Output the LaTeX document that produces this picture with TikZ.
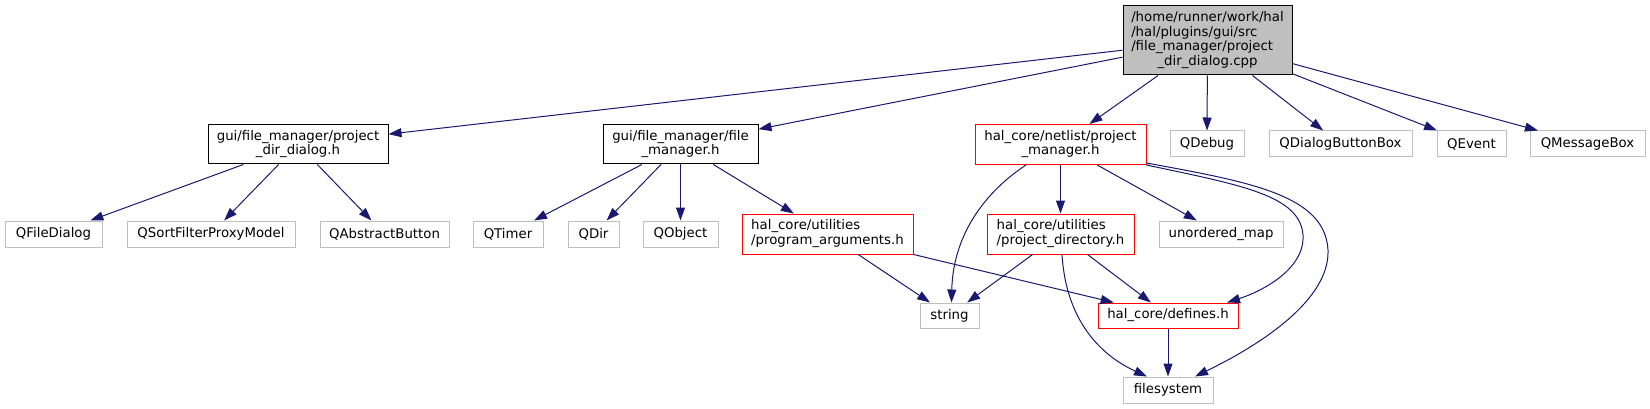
\documentclass[tikz,border=0pt]{standalone}
\usepackage{fontspec}
\setmainfont{DejaVu Sans}
\usetikzlibrary{arrows.meta}
\definecolor{edgec}{HTML}{191970}
\definecolor{greyc}{HTML}{BFBFBF}
\newcommand\twol[2]{\begin{tabular}{@{}l@{}}#1\\\multicolumn{1}{@{}c@{}}{#2}\end{tabular}}
\tikzset{
  box/.style={draw=black, line width=1pt, inner sep=0pt, font=\fontsize{13.3}{14.8}\selectfont, text=black},
  ext/.style={box, draw=greyc},
  hal/.style={box, draw=red},
  mainbox/.style={box, fill=greyc},
  dep/.style={draw=edgec, line width=1pt, -{Triangle[length=13pt,width=9pt]}},
}
\begin{document}
\begin{tikzpicture}[x=1pt,y=-1pt]
\useasboundingbox (0,0) rectangle (1650,409);
% nodes
\node[mainbox, minimum width=169pt, minimum height=69pt] (top) at (1207.5,40.5)
  {\begin{tabular}{@{}l@{}}/home/runner/work/hal\\/hal/plugins/gui/src\\/file\_manager/project\\\multicolumn{1}{@{}c@{}}{\_dir\_dialog.cpp}\end{tabular}};
\node[box, minimum width=180pt, minimum height=39pt] (pdd) at (298,144.5) {\twol{gui/file\_manager/project}{\_dir\_dialog.h}};
\node[box, minimum width=155pt, minimum height=39pt] (fm) at (680.5,144.5) {\twol{gui/file\_manager/file}{\_manager.h}};
\node[hal, minimum width=171pt, minimum height=40pt] (pm) at (1060.5,144.5) {\twol{hal\_core/netlist/project}{\_manager.h}};
\node[ext, minimum width=74pt, minimum height=26pt] (qdebug) at (1207,144) {QDebug};
\node[ext, minimum width=143pt, minimum height=26pt] (qdbb) at (1340.5,144) {QDialogButtonBox};
\node[ext, minimum width=69pt, minimum height=26pt] (qevent) at (1471.5,144) {QEvent};
\node[ext, minimum width=115pt, minimum height=26pt] (qmb) at (1587.5,144) {QMessageBox};
\node[ext, minimum width=97pt, minimum height=26pt] (qfd) at (53.5,234) {QFileDialog};
\node[ext, minimum width=168pt, minimum height=26pt] (qsfpm) at (211,234) {QSortFilterProxyModel};
\node[ext, minimum width=129pt, minimum height=26pt] (qab) at (384.5,234) {QAbstractButton};
\node[ext, minimum width=70pt, minimum height=26pt] (qtimer) at (508,234) {QTimer};
\node[ext, minimum width=51pt, minimum height=26pt] (qdir) at (593.5,234) {QDir};
\node[ext, minimum width=75pt, minimum height=26pt] (qobject) at (680.5,234) {QObject};
\node[hal, minimum width=171pt, minimum height=40pt] (pa) at (827.5,234) {\twol{hal\_core/utilities}{/program\_arguments.h}};
\node[hal, minimum width=147pt, minimum height=40pt] (pd) at (1060.5,234) {\twol{hal\_core/utilities}{/project\_directory.h}};
\node[ext, minimum width=124pt, minimum height=26pt] (um) at (1221,234) {unordered\_map};
\node[ext, minimum width=59pt, minimum height=25pt] (str) at (949.5,315.5) {string};
\node[hal, minimum width=140pt, minimum height=25pt] (def) at (1168,315.5) {hal\_core/defines.h};
\node[ext, minimum width=90pt, minimum height=26pt] (fs) at (1168,390) {filesystem};
% edges
\draw[dep] (top) -- (pdd);
\draw[dep] (top) -- (fm);
\draw[dep] (top) -- (pm);
\draw[dep] (top) -- (qdebug);
\draw[dep] (top) -- (qdbb);
\draw[dep] (top) -- (qevent);
\draw[dep] (top) -- (qmb);
\draw[dep] (pdd) -- (qfd);
\draw[dep] (pdd) -- (qsfpm);
\draw[dep] (pdd) -- (qab);
\draw[dep] (fm) -- (qtimer);
\draw[dep] (fm) -- (qdir);
\draw[dep] (fm) -- (qobject);
\draw[dep] (fm) -- (pa);
\draw[dep] (pm) -- (pd);
\draw[dep] (pm) -- (um);
\draw[dep] ([xshift=-34.5pt]pm.south) .. controls (985,192) and (953,235) .. ([xshift=2pt]str.north);
\draw[dep] (pm.south east) .. controls (1240,185) and (1300,195) .. (1303,235) .. controls (1305,270) and (1260,292) .. ([xshift=59pt]def.north);
\draw[dep] ([yshift=2pt]pm.south east) .. controls (1250,182) and (1325,195) .. (1328,250) .. controls (1330,300) and (1260,345) .. ([xshift=27pt]fs.north);
\draw[dep] (pa) -- (str);
\draw[dep] (pa) -- (def);
\draw[dep] (pd) -- (str);
\draw[dep] (pd) -- (def);
\draw[dep] ([xshift=1.5pt]pd.south) .. controls (1066,320) and (1100,355) .. ([xshift=-21pt]fs.north);
\draw[dep] (def) -- (fs);
\end{tikzpicture}
\end{document}
